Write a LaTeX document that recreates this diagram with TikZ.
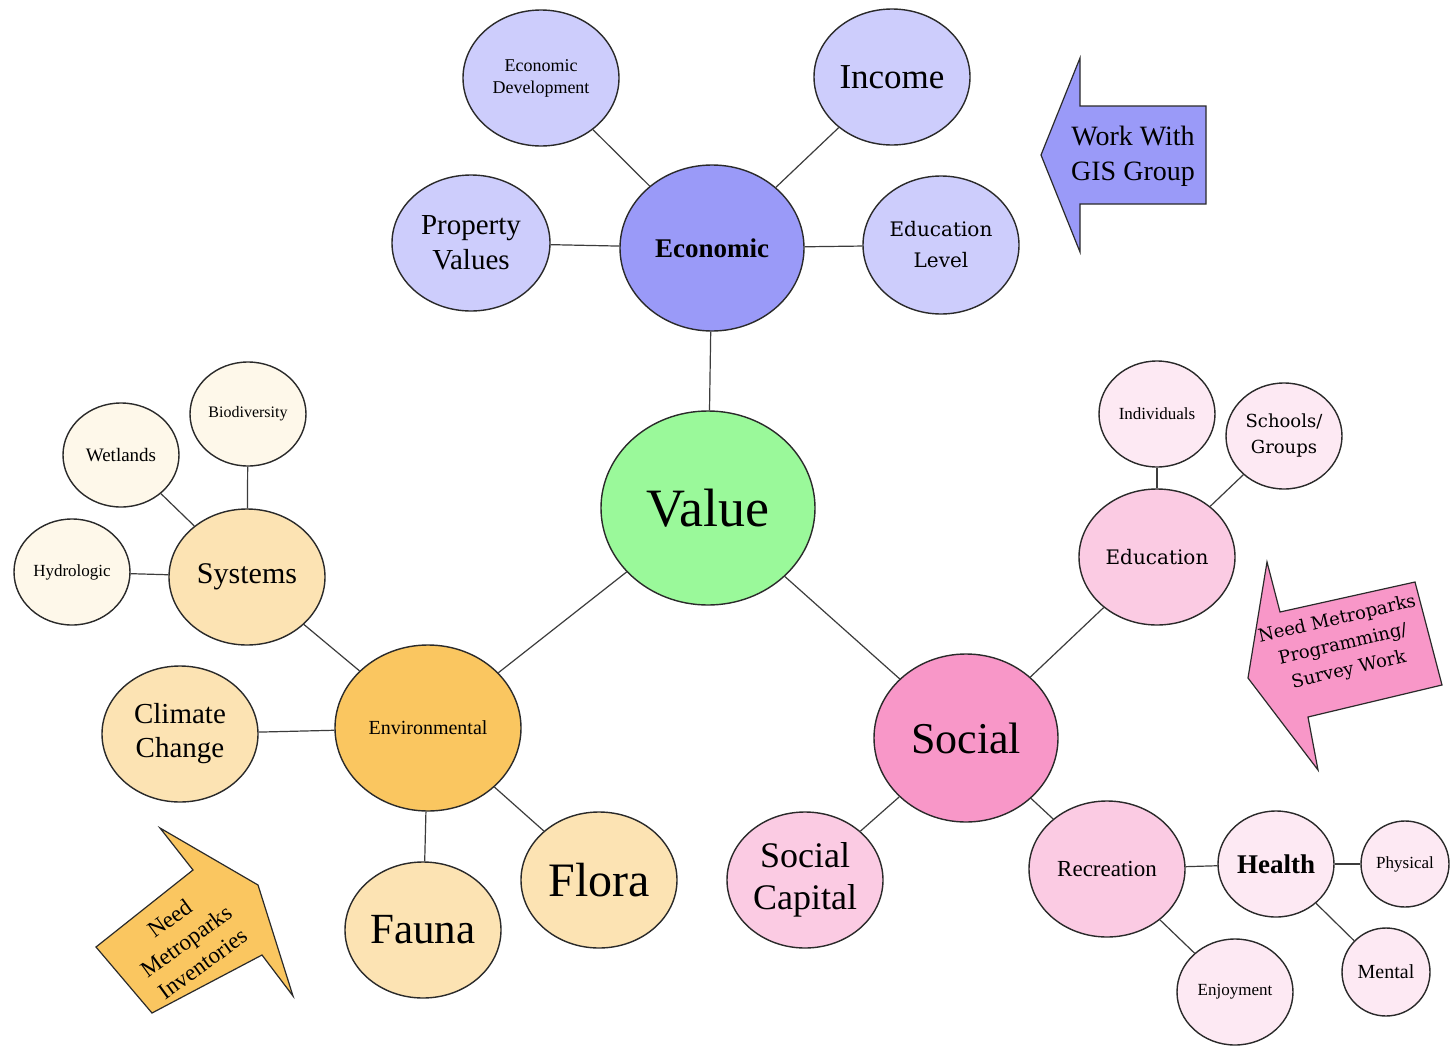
\documentclass[tikz,border=0pt]{standalone}
\usepackage{fontspec}
\setmainfont{Liberation Serif}
\newfontfamily\wideserif{DejaVu Serif}
\usetikzlibrary{shapes.geometric}
\definecolor{valuegreen}{HTML}{9AF99A}
\definecolor{econdark}{HTML}{9A9AF8}
\definecolor{econlight}{HTML}{CDCDFC}
\definecolor{envdark}{HTML}{FAC660}
\definecolor{envmid}{HTML}{FCE3B3}
\definecolor{envlight}{HTML}{FEF8EA}
\definecolor{socdark}{HTML}{F897C8}
\definecolor{socmid}{HTML}{FBCBE3}
\definecolor{soclight}{HTML}{FDE9F3}
\definecolor{outline}{HTML}{2A2A2A}
\definecolor{linkcol}{HTML}{3C3C3C}
\newcommand{\fs}[2]{\fontsize{#1}{#2}\selectfont}
\tikzset{
  bub/.style={ellipse, draw=outline, line width=1.4pt, inner sep=0pt, align=center},
  conn/.style={draw=linkcol, line width=1.2pt},
  blockarrow/.style={draw=outline, line width=1.2pt, line join=miter}
}
\begin{document}
\begin{tikzpicture}[x=1pt,y=-1pt]
\useasboundingbox (0,0) rectangle (1452,1047);
\fill[white] (0,0) rectangle (1452,1047);

% ---- nodes ----
\node[bub, fill=valuegreen, minimum width=214, minimum height=194, font=\fs{54}{60}] (value) at (708,508) {Value};

\node[bub, fill=econdark, minimum width=184, minimum height=166, font=\fs{27}{30}\bfseries] (econ) at (712,248) {Economic};
\node[bub, fill=econlight, minimum width=156, minimum height=136, font=\fs{18}{22}] (econdev) at (541,78) {Economic\\Development};
\node[bub, fill=econlight, minimum width=156, minimum height=136, font=\fs{35}{40}] (income) at (892,77) {Income};
\node[bub, fill=econlight, minimum width=158, minimum height=136, font=\fs{29}{35}] (property) at (471,243) {Property\\Values};
\node[bub, fill=econlight, minimum width=156, minimum height=138, font=\wideserif\fs{20}{31}] (edulevel) at (941,245) {Education\\Level};

\node[bub, fill=envdark, minimum width=186, minimum height=166, font=\fs{20}{24}] (env) at (428,728) {Environmental};
\node[bub, fill=envmid, minimum width=156, minimum height=136, font=\fs{30}{34}] (systems) at (247,577) {Systems};
\node[bub, fill=envlight, minimum width=116, minimum height=104, font=\fs{19}{22}] (wetlands) at (121,455) {Wetlands};
\node[bub, fill=envlight, minimum width=116, minimum height=104, font=\fs{16}{19}] (biodiv) at (248,414) {Biodiversity};
\node[bub, fill=envlight, minimum width=116, minimum height=106, font=\fs{17}{20}] (hydro) at (72,572) {Hydrologic};
\node[bub, fill=envmid, minimum width=156, minimum height=136, font=\fs{29}{34}] (climate) at (180,734) {Climate\\Change};
\node[bub, fill=envmid, minimum width=156, minimum height=136, font=\fs{43}{48}] (fauna) at (423,930) {Fauna};
\node[bub, fill=envmid, minimum width=156, minimum height=136, font=\fs{48}{52}] (flora) at (599,880) {Flora};

\node[bub, fill=socdark, minimum width=184, minimum height=168, font=\fs{44}{48}] (social) at (966,738) {Social};
\node[bub, fill=socmid, minimum width=156, minimum height=136, font=\wideserif\fs{20}{24}] (education) at (1157,557) {Education};
\node[bub, fill=soclight, minimum width=116, minimum height=106, font=\fs{17}{20}] (indiv) at (1157,414) {Individuals};
\node[bub, fill=soclight, minimum width=116, minimum height=106, font=\wideserif\fs{18}{26}] (schools) at (1284,436) {Schools/\\Groups};
\node[bub, fill=socmid, minimum width=156, minimum height=136, font=\fs{23}{26}] (recreation) at (1107,869) {Recreation};
\node[bub, fill=soclight, minimum width=116, minimum height=106, font=\fs{27}{30}\bfseries] (health) at (1276,864) {Health};
\node[bub, fill=soclight, minimum width=88, minimum height=86, font=\fs{17}{20}] (physical) at (1405,864) {Physical};
\node[bub, fill=soclight, minimum width=88, minimum height=88, font=\fs{20}{23}] (mental) at (1386,972) {Mental};
\node[bub, fill=soclight, minimum width=116, minimum height=106, font=\fs{17}{20}] (enjoy) at (1235,992) {Enjoyment};
\node[bub, fill=socmid, minimum width=156, minimum height=136, font=\fs{36}{42}] (socap) at (805,880) {Social\\Capital};

% ---- connectors ----
\draw[conn] (value) -- (econ);
\draw[conn] (value) -- (env);
\draw[conn] (value) -- (social);
\draw[conn] (econ) -- (econdev);
\draw[conn] (econ) -- (income);
\draw[conn] (econ) -- (property);
\draw[conn] (econ) -- (edulevel);
\draw[conn] (env) -- (systems);
\draw[conn] (env) -- (climate);
\draw[conn] (env) -- (fauna);
\draw[conn] (env) -- (flora);
\draw[conn] (systems) -- (wetlands);
\draw[conn] (systems) -- (biodiv);
\draw[conn] (systems) -- (hydro);
\draw[conn] (social) -- (education);
\draw[conn] (social) -- (recreation);
\draw[conn] (social) -- (socap);
\draw[conn] (education) -- (indiv);
\draw[conn] (education) -- (schools);
\draw[conn] (recreation) -- (health);
\draw[conn] (recreation) -- (enjoy);
\draw[conn] (health) -- (physical);
\draw[conn] (health) -- (mental);

% ---- block arrows ----
\draw[blockarrow, fill=econdark] (1041,155) -- (1080,58) -- (1080,106) -- (1206,106) -- (1206,204) -- (1080,204) -- (1080,252) -- cycle;
\node[align=center, font=\fs{28}{35}] (gistext) at (1133,156) {Work With\\GIS Group};

\draw[blockarrow, fill=socdark] (1248,678) -- (1267,562) -- (1280,612) -- (1415,582) -- (1442,685) -- (1308,717) -- (1318,770) -- cycle;
\node[align=center, rotate=13, font=\wideserif\fs{18}{26}] (surveytext) at (1343,645) {Need Metroparks\\Programming/\\Survey Work};

\draw[blockarrow, fill=envdark] (258,885) -- (293,996) -- (262,955) -- (152,1013) -- (96,947) -- (193,870) -- (160,828) -- cycle;
\node[align=center, rotate=36, font=\fs{23}{28}] (invtext) at (186,941) {Need\\Metroparks\\Inventories};
\end{tikzpicture}
\end{document}
